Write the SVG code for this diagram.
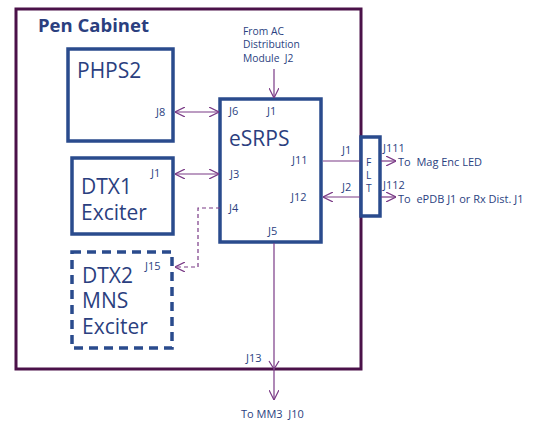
<svg xmlns="http://www.w3.org/2000/svg" width="533" height="426" viewBox="0 0 533 426">
<defs>
<style>
.box{fill:#fff;stroke:#2A4B8D;stroke-width:3.5}
.outer{fill:#fff;stroke:#4B1149;stroke-width:3}
.ln{fill:none;stroke:#7A3A86;stroke-width:1.2}
.dash{fill:none;stroke:#7A3A86;stroke-width:1.2;stroke-dasharray:4 3}
.s{font-family:"Open Sans","Liberation Sans",sans-serif;font-size:11px;fill:#2B3F7F}
.st{font-family:"Open Sans","Liberation Sans",sans-serif;font-size:10.3px;fill:#2B3F7F}
.b{font-family:"Open Sans","Liberation Sans",sans-serif;font-size:21px;fill:#2B3F7F}
.t{font-family:"Open Sans","Liberation Sans",sans-serif;font-size:18.5px;font-weight:bold;fill:#2B3F7F}
</style>
<marker id="ah" viewBox="0 0 10 10" refX="10" refY="5" markerWidth="10" markerHeight="10" markerUnits="userSpaceOnUse" orient="auto-start-reverse">
<path d="M0,0 L10,5 L0,10" fill="none" stroke="#7A3A86" stroke-width="1.2"/>
</marker>
</defs>
<g id="pen-cabinet">
<rect class="outer" x="16" y="9" width="345" height="360"/>
<text class="t" x="38" y="32">Pen Cabinet</text>
</g>
<g id="phps2">
<rect class="box" x="68" y="49" width="105" height="92"/>
<text class="b" x="77" y="78">PHPS2</text>
<text class="s" x="156" y="116">J8</text>
</g>
<g id="esrps">
<rect class="box" x="220" y="99" width="101" height="143"/>
<text class="b" x="229" y="146">eSRPS</text>
<text class="s" x="229" y="115">J6</text>
<text class="s" x="267" y="115">J1</text>
<text class="s" x="292" y="164">J11</text>
<text class="s" x="291" y="201">J12</text>
<text class="s" x="230" y="178">J3</text>
<text class="s" x="229" y="212">J4</text>
<text class="s" x="268" y="235">J5</text>
</g>
<g id="flt">
<rect class="box" x="361" y="137" width="19" height="79"/>
<text class="st" x="366" y="166">F</text>
<text class="st" x="366" y="179">L</text>
<text class="st" x="366" y="192">T</text>
<text class="s" x="342" y="154">J1</text>
<text class="s" x="342" y="191">J2</text>
<text class="s" x="383" y="152">J111</text>
<text class="s" x="383" y="189">J112</text>
</g>
<g id="dtx1">
<rect class="box" x="72" y="158" width="101" height="76"/>
<text class="b" x="81" y="194">DTX1</text>
<text class="b" x="81" y="220">Exciter</text>
<text class="s" x="151" y="177">J1</text>
</g>
<g id="dtx2">
<rect class="box" x="72" y="252" width="100" height="96" stroke-dasharray="9 6"/>
<text class="b" x="82" y="283">DTX2</text>
<text class="b" x="82" y="308">MNS</text>
<text class="b" x="82" y="334">Exciter</text>
<text class="s" x="145" y="270">J15</text>
</g>
<g id="labels">
<text class="st" x="243" y="35">From AC</text>
<text class="st" x="243" y="48">Distribution</text>
<text class="st" x="243" y="62" xml:space="preserve">Module  J2</text>
<text class="s" x="398" y="166" xml:space="preserve">To  Mag Enc LED</text>
<text class="s" x="398" y="203" xml:space="preserve">To  ePDB J1 or Rx Dist. J1</text>
<text class="s" x="246" y="362">J13</text>
<text class="s" x="241" y="418" xml:space="preserve">To MM3  J10</text>
</g>
<g id="connectors">
<line class="ln" x1="175" y1="112" x2="219" y2="112" marker-start="url(#ah)" marker-end="url(#ah)"/>
<line class="ln" x1="274" y1="69" x2="274" y2="98" marker-end="url(#ah)"/>
<line class="ln" x1="175" y1="174" x2="219" y2="174" marker-start="url(#ah)" marker-end="url(#ah)"/>
<polyline class="dash" points="220,208 198,208 198,267 175,267" marker-end="url(#ah)"/>
<line class="ln" x1="323" y1="161" x2="360" y2="161"/>
<line class="ln" x1="360" y1="197" x2="323" y2="197" marker-end="url(#ah)"/>
<line class="ln" x1="381" y1="161" x2="396" y2="161" marker-end="url(#ah)"/>
<line class="ln" x1="381" y1="197" x2="396" y2="197" marker-end="url(#ah)"/>
<line class="ln" x1="274" y1="243" x2="274" y2="400" marker-end="url(#ah)"/>
<polyline class="ln" points="269,361 274,369 279,361"/>
</g>
</svg>
